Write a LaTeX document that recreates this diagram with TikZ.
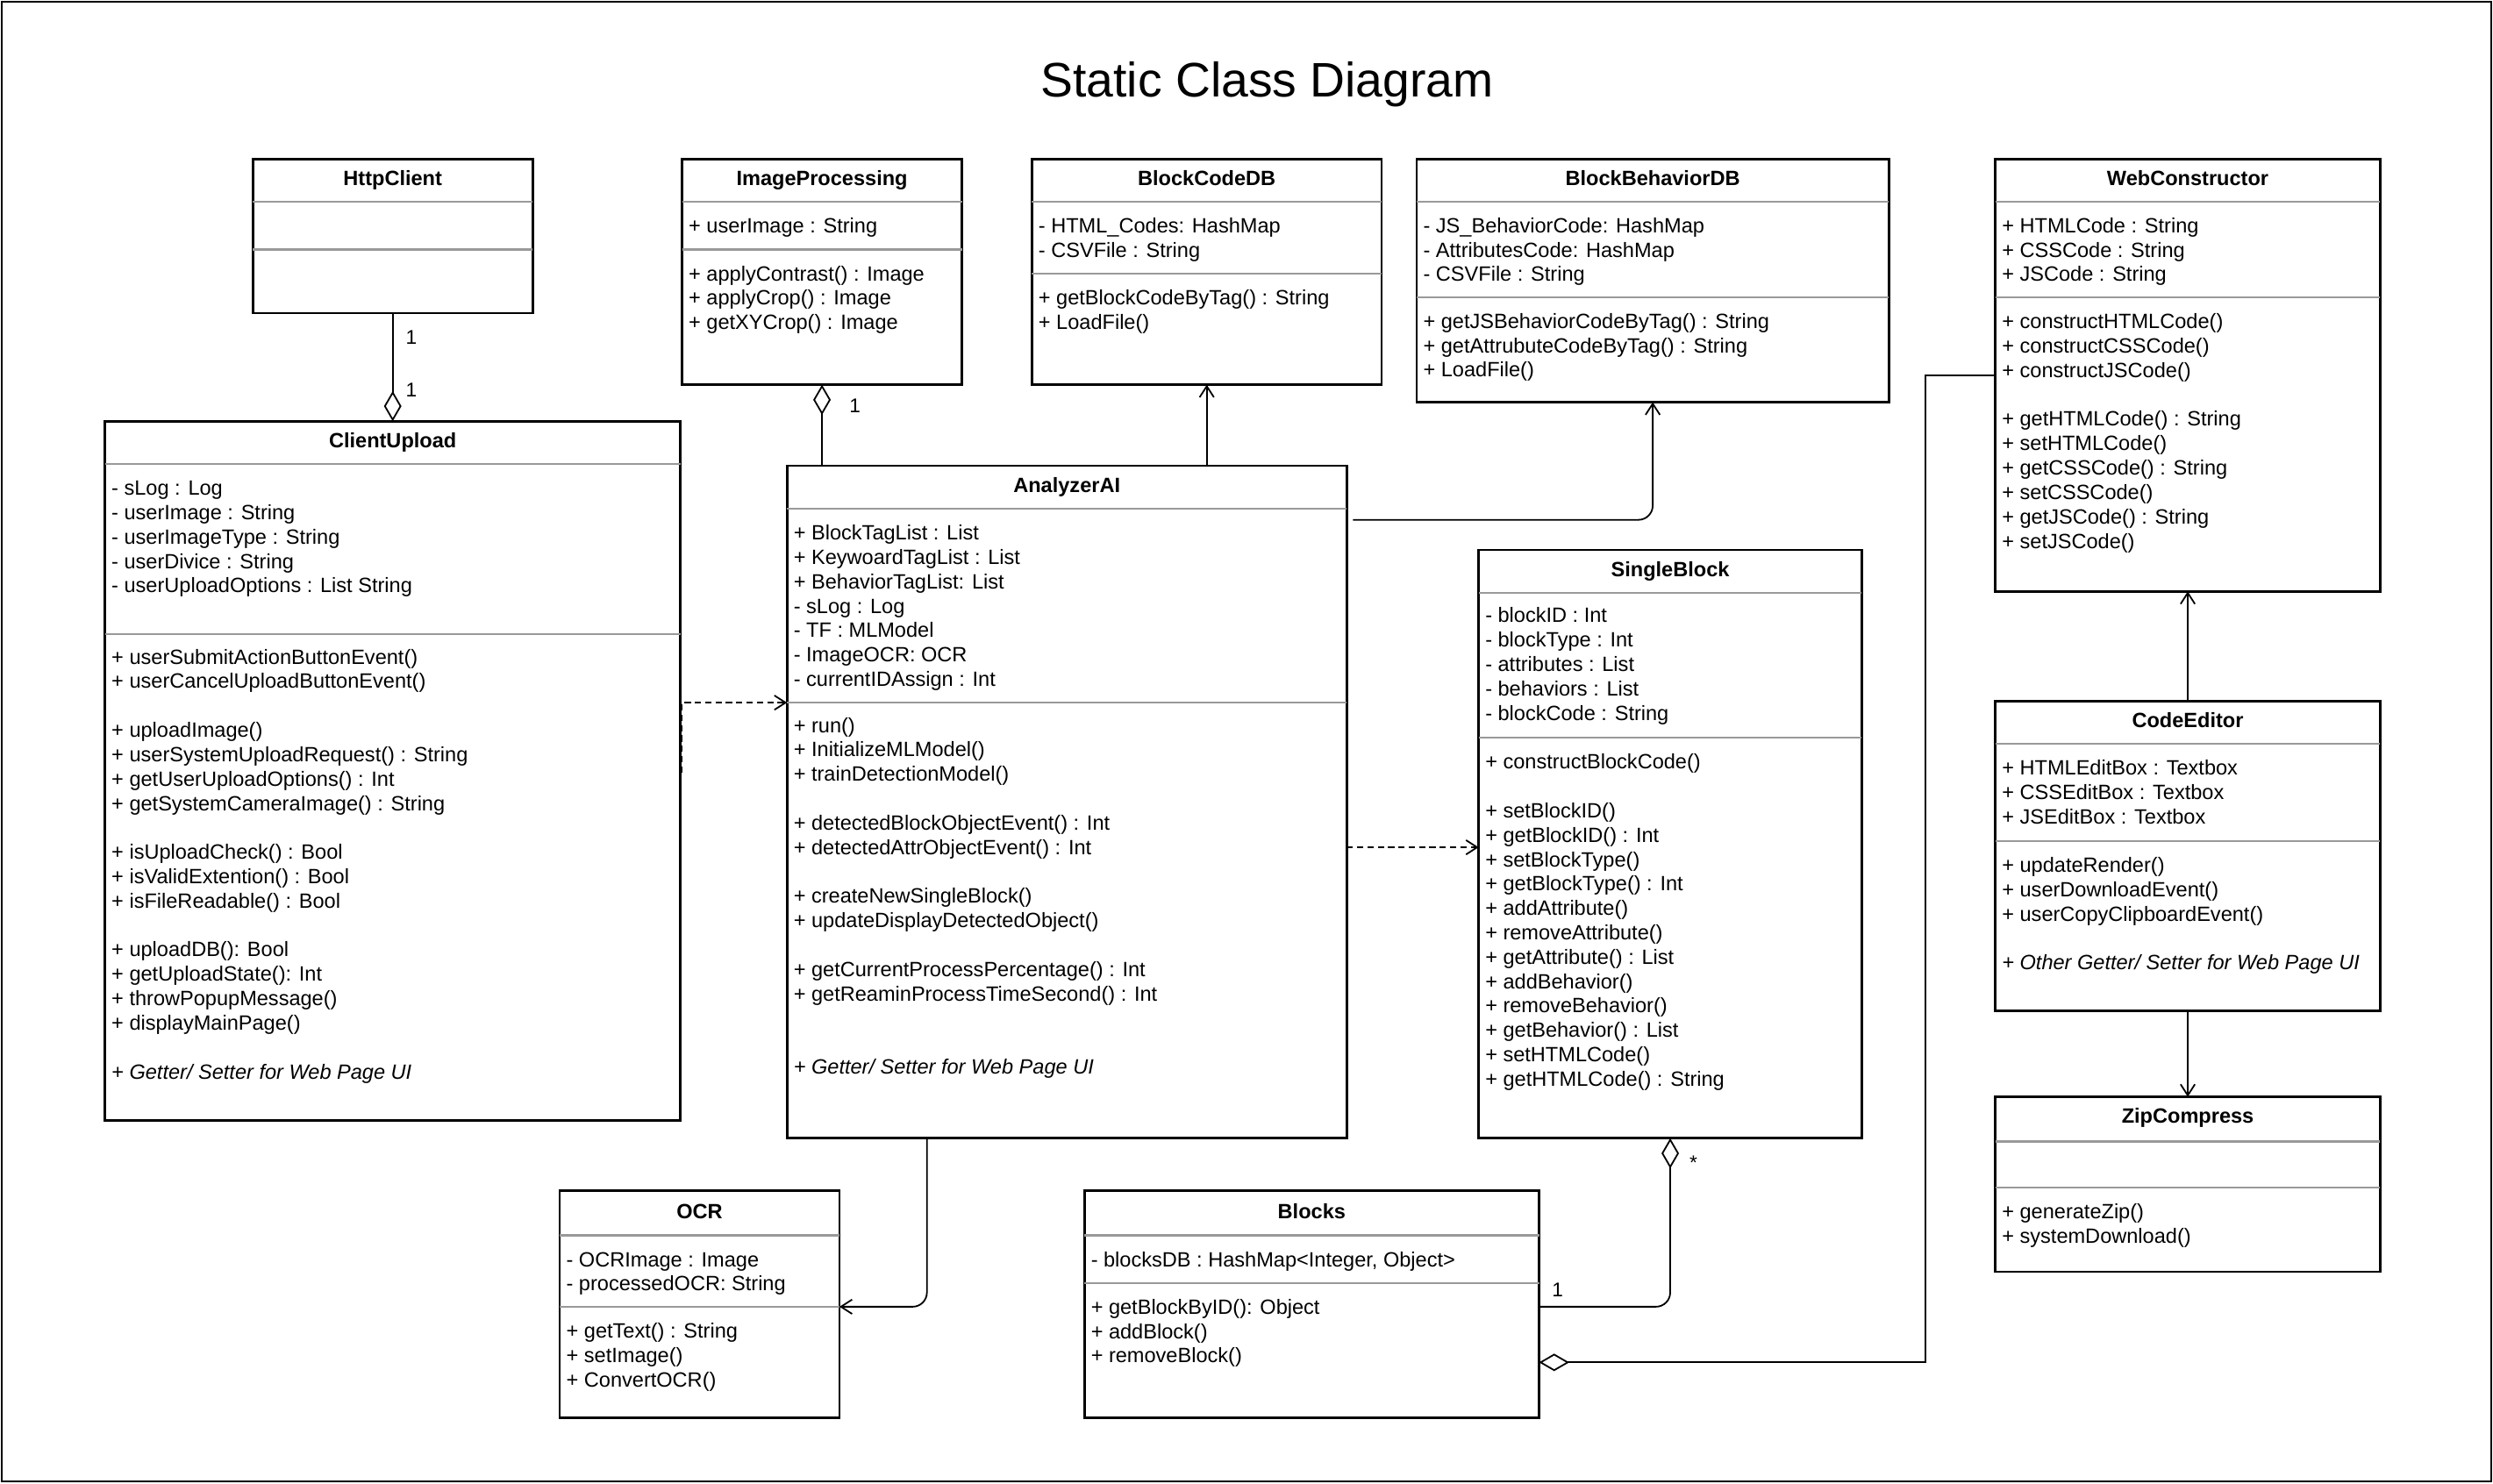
\documentclass[tikz,border=0pt]{standalone}
\usepackage{fontspec}
\setmainfont{Liberation Sans}
\usetikzlibrary{arrows.meta,positioning}
\tikzset{classbox/.style={
    % The shape:
    rectangle,
    anchor=north west,
    inner sep=0pt, outer sep=0pt,
    % The border:
    draw=black, line width=1.5pt,
    },
    classname/.style={
    font=\fontsize{13}{15}\selectfont\bfseries,
    anchor=base, inner sep=0pt,
    },
    member/.style={
    font=\fontsize{13}{15}\selectfont,
    anchor=base west, inner sep=0pt,
    },
    divider/.style={draw=black!40, line width=1.3pt},
    assoc/.style={draw, line width=1pt, -{Straight Barb[length=7pt,width=9pt]}},
    depend/.style={assoc, dash pattern=on 4pt off 2.5pt},
    aggr/.style={draw, line width=1pt, {Diamond[open,length=19pt,width=11pt]}-},
    mult/.style={font=\fontsize{12.5}{14}\selectfont, inner sep=0pt},
}

\begin{document}
\begin{tikzpicture}[x=1pt, y=-1pt]
    \useasboundingbox (0,0) rectangle (1568,933);
    \draw [line width=1pt] (1,1) rectangle (1567,932);
    \node (title) [font=\fontsize{30.5}{34}\selectfont, anchor=base] at (797,61) {Static Class Diagram};

    % HttpClient
    \node (http) [classbox, minimum width=176, minimum height=97] at (159,100) {};
    \node (http-name) [classname] at (247,116.7) {HttpClient};
    \draw [divider] (159,127) -- +(176,0);
    \draw [divider] (159,157) -- +(176,0);

    % ImageProcessing
    \node (imgproc) [classbox, minimum width=176, minimum height=142] at (429,100) {};
    \node (imgproc-name) [classname] at (517,116.7) {ImageProcessing};
    \draw [divider] (429,127) -- +(176,0);
    \draw [divider] (429,157) -- +(176,0);
    \foreach \m [count=\i from 0] in {+ userImage : String}
      \node (imgproc-a\i) [member] at (433,{146.7+15.2*\i}) {\m};
    \foreach \m [count=\i from 0] in {+ applyContrast() : Image, + applyCrop() : Image, + getXYCrop() : Image}
      \node (imgproc-m\i) [member] at (433,{176.7+15.2*\i}) {\m};

    % BlockCodeDB
    \node (codedb) [classbox, minimum width=220, minimum height=142] at (649,100) {};
    \node (codedb-name) [classname] at (759,116.7) {BlockCodeDB};
    \draw [divider] (649,127) -- +(220,0);
    \draw [divider] (649,172) -- +(220,0);
    \foreach \m [count=\i from 0] in {- HTML\_Codes: HashMap, - CSVFile : String}
      \node (codedb-a\i) [member] at (653,{146.7+15.2*\i}) {\m};
    \foreach \m [count=\i from 0] in {+ getBlockCodeByTag() : String, + LoadFile()}
      \node (codedb-m\i) [member] at (653,{191.7+15.2*\i}) {\m};

    % BlockBehaviorDB
    \node (behavdb) [classbox, minimum width=297, minimum height=153] at (891,100) {};
    \node (behavdb-name) [classname] at (1039.5,116.7) {BlockBehaviorDB};
    \draw [divider] (891,127) -- +(297,0);
    \draw [divider] (891,187) -- +(297,0);
    \foreach \m [count=\i from 0] in {- JS\_BehaviorCode: HashMap, - AttributesCode: HashMap, - CSVFile : String}
      \node (behavdb-a\i) [member] at (895,{146.7+15.2*\i}) {\m};
    \foreach \m [count=\i from 0] in {+ getJSBehaviorCodeByTag() : String, + getAttrubuteCodeByTag() : String, + LoadFile()}
      \node (behavdb-m\i) [member] at (895,{206.7+15.2*\i}) {\m};

    % WebConstructor
    \node (webcons) [classbox, minimum width=242, minimum height=272] at (1255,100) {};
    \node (webcons-name) [classname] at (1376,116.7) {WebConstructor};
    \draw [divider] (1255,127) -- +(242,0);
    \draw [divider] (1255,187) -- +(242,0);
    \foreach \m [count=\i from 0] in {+ HTMLCode : String, + CSSCode : String, + JSCode : String}
      \node (webcons-a\i) [member] at (1259,{146.7+15.2*\i}) {\m};
    \foreach \m [count=\i from 0] in {+ constructHTMLCode(), + constructCSSCode(), + constructJSCode(), {},
        + getHTMLCode() : String, + setHTMLCode(), + getCSSCode() : String, + setCSSCode(),
        + getJSCode() : String, + setJSCode()}
      \node (webcons-m\i) [member] at (1259,{206.7+15.35*\i}) {\m};

    % ClientUpload
    \node (client) [classbox, minimum width=362, minimum height=440] at (66,265) {};
    \node (client-name) [classname] at (247,281.7) {ClientUpload};
    \draw [divider] (66,292) -- +(362,0);
    \draw [divider] (66,399) -- +(362,0);
    \foreach \m [count=\i from 0] in {- sLog : Log, - userImage : String, - userImageType : String,
        - userDivice : String, - userUploadOptions : List String}
      \node (client-a\i) [member] at (70,{311.7+15.3*\i}) {\m};
    \foreach \m [count=\i from 0] in {+ userSubmitActionButtonEvent(), + userCancelUploadButtonEvent(), {},
        + uploadImage(), + userSystemUploadRequest() : String, + getUserUploadOptions() : Int,
        + getSystemCameraImage() : String, {},
        + isUploadCheck() : Bool, + isValidExtention() : Bool, + isFileReadable() : Bool, {},
        + uploadDB(): Bool, + getUploadState(): Int, + throwPopupMessage(), + displayMainPage(), {},
        {\itshape + Getter/ Setter for Web Page UI}}
      \node (client-m\i) [member] at (70,{417.7+15.35*\i}) {\m};

    % AnalyzerAI
    \node (analyzer) [classbox, minimum width=352, minimum height=423] at (495,293) {};
    \node (analyzer-name) [classname] at (671,309.7) {AnalyzerAI};
    \draw [divider] (495,320) -- +(352,0);
    \draw [divider] (495,442) -- +(352,0);
    \foreach \m [count=\i from 0] in {+ BlockTagList : List, + KeywoardTagList : List, + BehaviorTagList: List,
        - sLog : Log, - TF : MLModel, - ImageOCR: OCR, - currentIDAssign : Int}
      \node (analyzer-a\i) [member] at (499,{339.7+15.35*\i}) {\m};
    \foreach \m [count=\i from 0] in {+ run(), + InitializeMLModel(), + trainDetectionModel(), {},
        + detectedBlockObjectEvent() : Int, + detectedAttrObjectEvent() : Int, {},
        + createNewSingleBlock(), + updateDisplayDetectedObject(), {},
        + getCurrentProcessPercentage() : Int, + getReaminProcessTimeSecond() : Int, {}, {},
        {\itshape + Getter/ Setter for Web Page UI}}
      \node (analyzer-m\i) [member] at (499,{460.7+15.35*\i}) {\m};

    % SingleBlock
    \node (single) [classbox, minimum width=241, minimum height=370] at (930,346) {};
    \node (single-name) [classname] at (1050.5,362.7) {SingleBlock};
    \draw [divider] (930,373) -- +(241,0);
    \draw [divider] (930,464) -- +(241,0);
    \foreach \m [count=\i from 0] in {- blockID : Int, - blockType : Int, - attributes : List,
        - behaviors : List, - blockCode : String}
      \node (single-a\i) [member] at (934,{391.7+15.35*\i}) {\m};
    \foreach \m [count=\i from 0] in {+ constructBlockCode(), {}, + setBlockID(), + getBlockID() : Int,
        + setBlockType(), + getBlockType() : Int, + addAttribute(), + removeAttribute(),
        + getAttribute() : List, + addBehavior(), + removeBehavior(), + getBehavior() : List,
        + setHTMLCode(), + getHTMLCode() : String}
      \node (single-m\i) [member] at (934,{483.7+15.35*\i}) {\m};

    % CodeEditor
    \node (editor) [classbox, minimum width=242, minimum height=195] at (1255,441) {};
    \node (editor-name) [classname] at (1376,457.7) {CodeEditor};
    \draw [divider] (1255,468) -- +(242,0);
    \draw [divider] (1255,529) -- +(242,0);
    \foreach \m [count=\i from 0] in {+ HTMLEditBox : Textbox, + CSSEditBox : Textbox, + JSEditBox : Textbox}
      \node (editor-a\i) [member] at (1259,{487.7+15.35*\i}) {\m};
    \foreach \m [count=\i from 0] in {+ updateRender(), + userDownloadEvent(), + userCopyClipboardEvent(), {},
        {\itshape + Other Getter/ Setter for Web Page UI}}
      \node (editor-m\i) [member] at (1259,{548.7+15.35*\i}) {\m};

    % ZipCompress
    \node (zip) [classbox, minimum width=242, minimum height=110] at (1255,690) {};
    \node (zip-name) [classname] at (1376,706.7) {ZipCompress};
    \draw [divider] (1255,718) -- +(242,0);
    \draw [divider] (1255,747) -- +(242,0);
    \foreach \m [count=\i from 0] in {+ generateZip(), + systemDownload()}
      \node (zip-m\i) [member] at (1259,{766.7+15.35*\i}) {\m};

    % OCR
    \node (ocr) [classbox, minimum width=176, minimum height=143] at (352,749) {};
    \node (ocr-name) [classname] at (440,766.7) {OCR};
    \draw [divider] (352,777) -- +(176,0);
    \draw [divider] (352,822) -- +(176,0);
    \foreach \m [count=\i from 0] in {- OCRImage : Image, - processedOCR: String}
      \node (ocr-a\i) [member] at (356,{796.7+15.2*\i}) {\m};
    \foreach \m [count=\i from 0] in {+ getText() : String, + setImage(), + ConvertOCR()}
      \node (ocr-m\i) [member] at (356,{841.7+15.3*\i}) {\m};

    % Blocks
    \node (blocks) [classbox, minimum width=286, minimum height=143] at (682,749) {};
    \node (blocks-name) [classname] at (825,766.7) {Blocks};
    \draw [divider] (682,777) -- +(286,0);
    \draw [divider] (682,807) -- +(286,0);
    \foreach \m [count=\i from 0] in {{- blocksDB : HashMap<Integer, Object>}}
      \node (blocks-a\i) [member] at (686,{796.7+15.2*\i}) {\m};
    \foreach \m [count=\i from 0] in {+ getBlockByID(): Object, + addBlock(), + removeBlock()}
      \node (blocks-m\i) [member] at (686,{826.7+15.3*\i}) {\m};

    % connectors
    \coordinate (analyzer-out) at ([xshift=4,yshift=-34]analyzer.north east);
    \coordinate (client-out) at ([xshift=1,yshift=-221]client.north east);
    \coordinate (analyzer-in) at ([yshift=-149]analyzer.north west);
    \coordinate (analyzer-dep) at ([yshift=-240]analyzer.north east);
    \coordinate (single-in) at ([yshift=-187]single.north west);
    \coordinate (analyzer-down) at ([xshift=88]analyzer.south west);
    \coordinate (ocr-in) at ([yshift=-73]ocr.north east);
    \coordinate (blocks-in) at ([yshift=-73]blocks.north east);
    \coordinate (blocks-agg) at ([yshift=-108]blocks.north east);
    \coordinate (webcons-out) at ([yshift=-136]webcons.north west);

    \draw [aggr] (client.north) -- (http.south);
    \draw [aggr] (imgproc.south) -- (imgproc.south |- analyzer.north);
    \draw [assoc] (codedb.south |- analyzer.north) -- (codedb.south);
    \draw [assoc, rounded corners=9pt] (analyzer-out) -| (behavdb.south);
    \draw [depend] (client-out) |- (analyzer-in);
    \draw [depend] (analyzer-dep) -- (single-in);
    \draw [assoc, rounded corners=9pt] (analyzer-down) |- (ocr-in);
    \draw [aggr, rounded corners=9pt] (single.south) |- (blocks-in);
    \draw [aggr] (blocks-agg) -| ([xshift=-44]webcons-out) -- (webcons-out);
    \draw [assoc] (editor.north) -- (webcons.south);
    \draw [assoc] (editor.south) -- (zip.north);

    \node (http-one)    [mult, below right=11pt and 8pt of http.south]   {1};
    \node (client-one)  [mult, above right=15pt and 8pt of client.north] {1};
    \node (imgproc-one) [mult, below right=9pt and 17pt of imgproc.south] {1};
    \node (single-many) [mult, below right=11pt and 12pt of single.south] {*};
    \node (blocks-one)  [mult, above right=6pt and 8pt of blocks-in]     {1};
\end{tikzpicture}
\end{document}
